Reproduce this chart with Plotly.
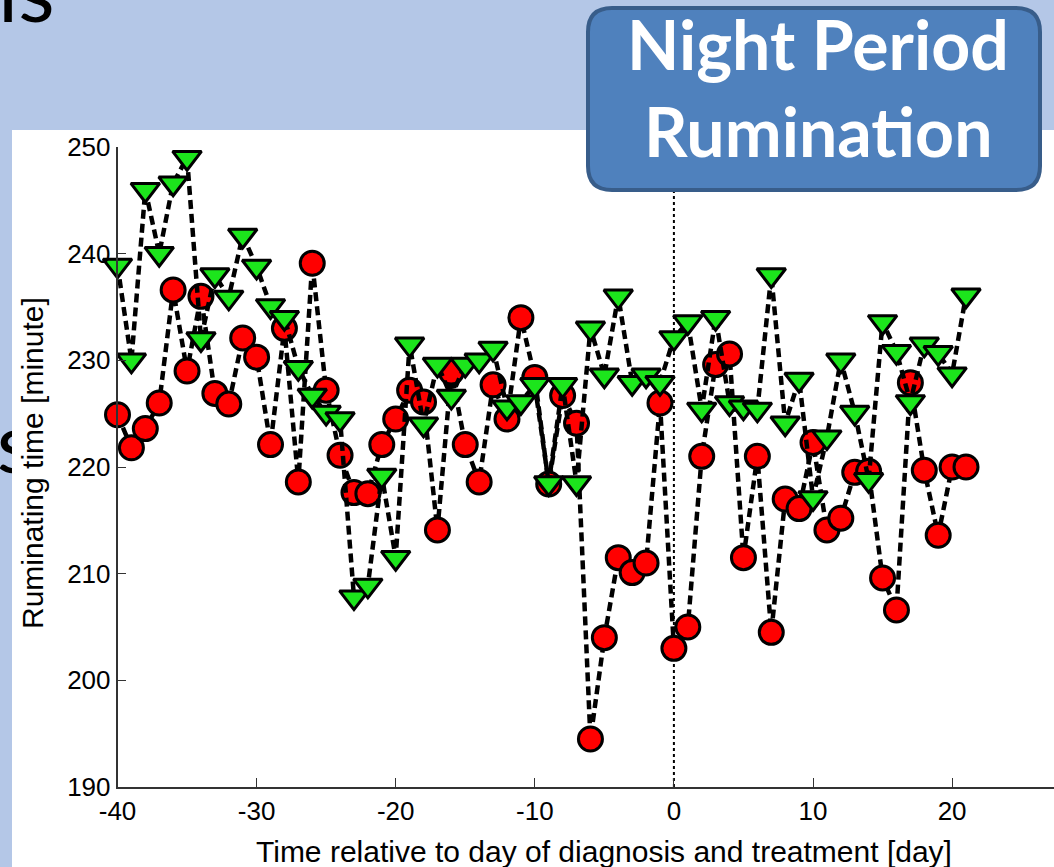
import plotly.graph_objects as go

# ---------------- data ----------------
days = list(range(-40, 22))

red_circle_vals = [
    224.9, 221.8, 223.6, 226.0, 236.6, 229.0, 236.0, 226.9, 225.9, 232.1,
    230.3, 222.1, 233.0, 218.6, 239.1, 227.2, 221.1, 217.6, 217.5, 222.1,
    224.5, 227.2, 226.1, 214.1, 228.9, 222.1, 218.6, 227.7, 224.5, 234.0,
    228.4, 218.4, 226.7, 224.1, 194.5, 204.0, 211.5, 210.1, 211.0, 226.0,
    203.0, 205.0, 221.0, 229.6, 230.6, 211.5, 221.0, 204.5, 217.0, 216.1,
    222.3, 214.1, 215.2, 219.5, 219.6, 209.6, 206.6, 227.9, 219.7, 213.6,
    220.0, 220.0,
]

green_triangle_vals = [
    238.9, 230.0, 246.0, 240.0, 246.6, 249.0, 232.0, 238.0, 235.9, 241.7,
    238.8, 235.1, 234.0, 229.3, 226.7, 225.1, 224.5, 207.8, 208.9, 219.2,
    211.5, 231.5, 224.0, 229.6, 226.6, 229.6, 230.0, 231.1, 225.6, 226.1,
    227.7, 218.5, 227.7, 218.5, 233.0, 228.6, 236.0, 227.9, 228.6, 227.9,
    232.1, 233.6, 225.4, 234.0, 226.0, 225.6, 225.4, 238.0, 224.1, 228.2,
    217.1, 222.8, 230.0, 225.1, 218.8, 233.6, 230.8, 226.1, 231.5, 230.7,
    228.7, 236.1,
]

x_tick_vals = [-40, -30, -20, -10, 0, 10, 20, 30]
x_tick_text = ["-40", "-30", "-20", "-10", "0", "10", "20", "30"]
y_tick_vals = [190, 200, 210, 220, 230, 240, 250]
x_title = "Time relative to day of diagnosis and treatment [day]"
y_title = "Ruminating time [minute]"
box_lines = ["Night Period", "Rumination"]
diagnosis_day = 0

# ---------------- geometry helpers (pixels -> paper) ----------------
W, H = 1054, 867


def fx(px):
    return px / W


def fy(py):
    return 1 - py / H


AX_LEFT_PX, AX_BOTTOM_PX, AX_TOP_PX = 117.5, 787, 147
PX_PER_DAY = 13.91
x_max = -40 + (W - AX_LEFT_PX) / PX_PER_DAY

tick_font = dict(family="Liberation Sans, Arial, sans-serif", size=26, color="black")
title_font = dict(family="Liberation Sans, Arial, sans-serif", size=30, color="black")
box_font = dict(family="Lato, sans-serif", size=68, color="white", weight="bold")

fig = go.Figure()

fig.add_trace(go.Scatter(
    x=days, y=red_circle_vals, mode="lines+markers",
    line=dict(color="black", width=4.5, dash="9px,5px"),
    marker=dict(symbol="circle", size=24, color="#FF0000",
                line=dict(color="black", width=3)),
    cliponaxis=False, showlegend=False, hoverinfo="skip",
))

fig.add_trace(go.Scatter(
    x=days, y=green_triangle_vals, mode="lines+markers",
    line=dict(color="black", width=4.5, dash="9px,5px"),
    marker=dict(symbol="triangle-down", size=25, color="#1CE51C",
                line=dict(color="black", width=3)),
    cliponaxis=False, showlegend=False, hoverinfo="skip",
))

# clipped slide text fragment at the left edge (hidden behind the chart image)
fig.add_trace(go.Scatter(
    x=[15], y=[452], mode="text", text=["s"],
    textfont=dict(family="Lato, sans-serif", size=84, color="black"),
    xaxis="x2", yaxis="y2", cliponaxis=True, showlegend=False, hoverinfo="skip",
))

# rounded box path
bx0, bx1, by0, by1, r = 588, 1040, 8, 190, 24
path = (
    f"M {fx(bx0 + r)} {fy(by0)} L {fx(bx1 - r)} {fy(by0)} "
    f"Q {fx(bx1)} {fy(by0)} {fx(bx1)} {fy(by0 + r)} "
    f"L {fx(bx1)} {fy(by1 - r)} Q {fx(bx1)} {fy(by1)} {fx(bx1 - r)} {fy(by1)} "
    f"L {fx(bx0 + r)} {fy(by1)} Q {fx(bx0)} {fy(by1)} {fx(bx0)} {fy(by1 - r)} "
    f"L {fx(bx0)} {fy(by0 + r)} Q {fx(bx0)} {fy(by0)} {fx(bx0 + r)} {fy(by0)} Z"
)

fig.update_layout(
    width=W, height=H,
    margin=dict(l=0, r=0, t=0, b=0, pad=0),
    paper_bgcolor="#B4C7E7",
    plot_bgcolor="rgba(0,0,0,0)",
    xaxis=dict(
        domain=[fx(AX_LEFT_PX), 1], range=[-40, x_max], automargin=False,
        tickvals=x_tick_vals, ticktext=x_tick_text, ticks="inside", ticklen=9, tickwidth=1,
        tickcolor="#333", showline=True, linecolor="#333", linewidth=1.5,
        showgrid=False, zeroline=False, tickfont=tick_font, anchor="y",
    ),
    yaxis=dict(
        domain=[fy(AX_BOTTOM_PX), fy(AX_TOP_PX)], range=[190, 250], automargin=False,
        tickvals=y_tick_vals, ticks="inside", ticklen=9, tickwidth=1,
        tickcolor="#333", showline=True, linecolor="#333", linewidth=1.5,
        showgrid=False, zeroline=False, tickfont=tick_font, anchor="x",
    ),
    xaxis2=dict(domain=[0, fx(12)], range=[0, 12], visible=False, anchor="y2",
                automargin=False),
    yaxis2=dict(domain=[0, 1], range=[H, 0], visible=False, anchor="x2",
                automargin=False),
    shapes=[
        dict(type="rect", xref="paper", yref="paper",
             x0=fx(12), x1=1, y0=0, y1=fy(130),
             fillcolor="white", line=dict(width=0), layer="below"),
        dict(type="line", xref="x", yref="y",
             x0=diagnosis_day, x1=diagnosis_day, y0=190, y1=250,
             line=dict(color="black", width=2, dash="dot"), layer="below"),
        dict(type="path", xref="paper", yref="paper", path=path,
             fillcolor="#4F81BD", line=dict(color="#385D8A", width=4),
             layer="above"),
    ],
    annotations=[
        dict(text=x_title, xref="x", yref="paper", x=-5, y=fy(851),
             xanchor="center", yanchor="middle", showarrow=False, font=title_font),
        dict(text=y_title, xref="paper", yref="paper", x=fx(32), y=fy(463),
             xanchor="center", yanchor="middle", textangle=-90,
             showarrow=False, font=title_font),
        dict(text=box_lines[0], xref="paper", yref="paper", x=fx(818), y=fy(44),
             xanchor="center", yanchor="middle", showarrow=False, font=box_font),
        dict(text=box_lines[1], xref="paper", yref="paper", x=fx(818), y=fy(131),
             xanchor="center", yanchor="middle", showarrow=False, font=box_font),
        dict(text="is", xref="paper", yref="paper", x=fx(-4), y=fy(-10),
             xanchor="left", yanchor="middle", showarrow=False,
             font=dict(family="Lato, sans-serif", size=84, color="black")),
    ],
)

fig.write_html("out.html", config={"displayModeBar": False})
